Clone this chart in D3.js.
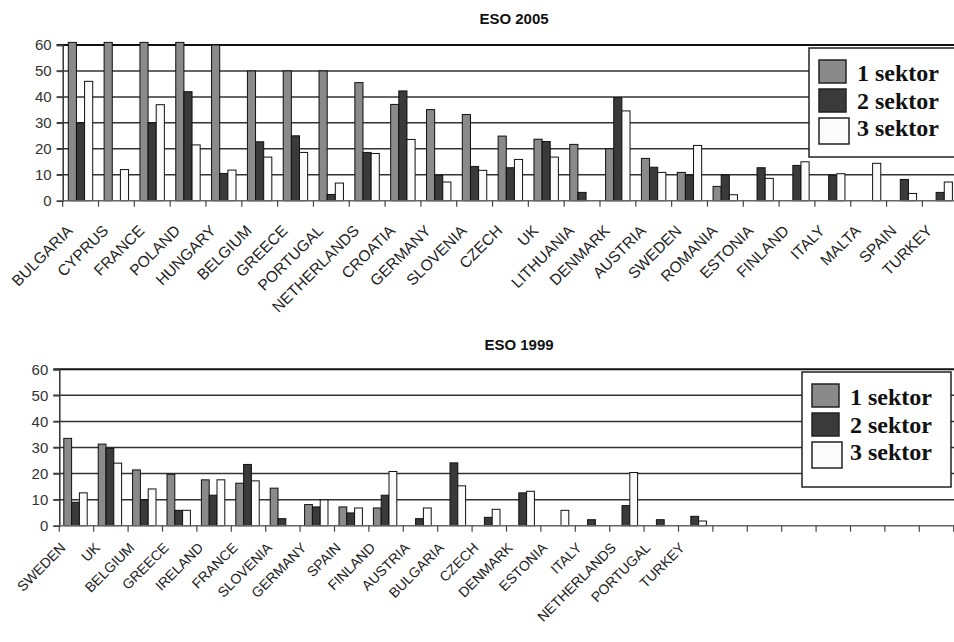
<!DOCTYPE html>
<html>
<head>
<meta charset="utf-8">
<script src="https://cdn.jsdelivr.net/npm/d3@7"></script>
<style>
body { margin: 0; background: #fff; }
svg { display: block; }
.tick text { font-family: "Liberation Sans", Arial, sans-serif; fill: #333; }
.title { font-family: "Liberation Sans", Arial, sans-serif; font-weight: bold; font-size: 15px; fill: #111; }
.leg { font-family: "Liberation Serif", "Times New Roman", serif; font-weight: bold; font-size: 24px; fill: #111; }
</style>
</head>
<body>
<script>
// ESO 2005
var cats2005 = ["BULGARIA", "CYPRUS", "FRANCE", "POLAND", "HUNGARY", "BELGIUM", "GREECE", "PORTUGAL",
  "NETHERLANDS", "CROATIA", "GERMANY", "SLOVENIA", "CZECH", "UK", "LITHUANIA", "DENMARK", "AUSTRIA",
  "SWEDEN", "ROMANIA", "ESTONIA", "FINLAND", "ITALY", "MALTA", "SPAIN", "TURKEY"];
var s1_2005 = [61, 61, 61, 61, 60, 50, 50, 50, 45.5, 37.1, 35.1, 33.2, 24.9, 23.7, 21.7, 20, 16.3, 10.9, 5.5, null, null, null, null, null, null];
var s2_2005 = [30, null, 30, 42, 10.5, 22.7, 25, 2.4, 18.6, 42.3, 9.8, 13.2, 12.7, 22.8, 3.2, 39.7, 12.9, 9.9, 9.9, 12.7, 13.6, 9.8, null, 8.2, 3.2];
var s3_2005 = [46, 12, 37, 21.5, 11.8, 16.8, 18.6, 6.8, 18.2, 23.6, 7.2, 11.7, 15.9, 16.8, null, 34.6, 10.9, 21.3, 2.3, 8.6, 15, 10.4, 14.4, 2.8, 7.2];

// ESO 1999 (the axis has 26 slots, the last ones are empty)
var cats1999 = ["SWEDEN", "UK", "BELGIUM", "GREECE", "IRELAND", "FRANCE", "SLOVENIA", "GERMANY", "SPAIN",
  "FINLAND", "AUSTRIA", "BULGARIA", "CZECH", "DENMARK", "ESTONIA", "ITALY", "NETHERLANDS", "PORTUGAL", "TURKEY",
  "", "", "", "", "", "", ""];
var s1_1999 = [33.5, 31.3, 21.4, 19.7, 17.6, 16.3, 14.4, 8.1, 7.2, 6.8, null, null, null, null, null, null, null, null, null];
var s2_1999 = [9, 29.7, 9.9, 5.9, 11.7, 23.5, 2.7, 7.2, 4.9, 11.7, 2.7, 24.1, 3.2, 12.6, null, 2.3, 7.7, 2.3, 3.6];
var s3_1999 = [12.6, 24, 14.1, 5.9, 17.6, 17.2, null, 9.9, 6.8, 20.8, 6.8, 15.3, 6.3, 13.2, 5.9, null, 20.4, null, 1.8];

var yTicks = [0, 10, 20, 30, 40, 50, 60];
var seriesNames = ["1 sektor", "2 sektor", "3 sektor"];
var colors = ["#8a8a8a", "#3a3a3a", "#fbfbfb"];

var svg = d3.select("body").append("svg")
  .attr("width", 954)
  .attr("height", 642);

function draw(o) {
  var g = svg.append("g");

  var x = d3.scaleBand()
    .domain(d3.range(o.cats.length))
    .range([o.left, o.right]);

  var inner = d3.scaleBand()
    .domain([0, 1, 2])
    .range([o.pad, x.bandwidth() - o.pad2]);

  var y = d3.scaleLinear()
    .domain([0, 60])
    .range([o.bottom, o.top]);

  g.append("text")
    .attr("class", "title")
    .attr("x", o.titleX)
    .attr("y", o.titleY)
    .attr("text-anchor", "middle")
    .text(o.title);

  // grid
  g.selectAll(".grid")
    .data(yTicks.slice(1))
    .enter().append("line")
    .attr("x1", o.left - 6)
    .attr("x2", 954)
    .attr("y1", function(d) { return y(d); })
    .attr("y2", function(d) { return y(d); })
    .style("stroke", function(d) { return d == 60 ? "#111" : "#333"; })
    .style("stroke-width", function(d) { return d == 60 ? 2 : 1.5; });

  var yAxis = d3.axisLeft(y).tickValues(yTicks).tickSize(6).tickPadding(5);
  var ya = g.append("g")
    .attr("transform", "translate(" + o.left + ",0)")
    .call(yAxis);
  ya.select(".domain").style("stroke", "#333").style("stroke-width", 1.5);
  ya.selectAll(".tick line").style("stroke", "#444").style("stroke-width", 1.4);
  ya.selectAll(".tick text").style("font-size", "15px");

  var series = [o.s1, o.s2, o.s3];
  series.forEach(function(vals, k) {
    g.selectAll(".bar" + k)
      .data(vals.map(function(v, i) { return {i: i, v: v}; }).filter(function(d) { return d.v != null; }))
      .enter().append("rect")
      .attr("x", function(d) { return x(d.i) + inner(k); })
      .attr("width", inner.bandwidth())
      .attr("y", function(d) { return y(d.v); })
      .attr("height", function(d) { return o.bottom - y(d.v); })
      .attr("fill", colors[k])
      .style("stroke", "#111")
      .style("stroke-width", 1);
  });

  // x axis
  g.append("line")
    .attr("x1", o.left).attr("x2", 954)
    .attr("y1", o.bottom).attr("y2", o.bottom)
    .style("stroke", "#666").style("stroke-width", 1.5);

  g.selectAll(".xt")
    .data(d3.range(o.cats.length + 1))
    .enter().append("line")
    .attr("x1", function(i) { return o.left + i * x.step(); })
    .attr("x2", function(i) { return o.left + i * x.step(); })
    .attr("y1", o.bottom)
    .attr("y2", o.bottom + 6)
    .style("stroke", "#444").style("stroke-width", 1.2);

  g.selectAll(".xl")
    .data(o.cats)
    .enter().append("text")
    .attr("transform", function(d, i) {
      return "translate(" + (x(i) + x.bandwidth() / 2 + o.lx) + "," + (o.bottom + o.ly) + ") rotate(-45)";
    })
    .attr("text-anchor", "end")
    .style("font-family", "'Liberation Sans', Arial, sans-serif")
    .style("font-size", o.lsize + "px")
    .style("fill", "#222")
    .text(function(d) { return d; });

  // legend
  var lg = g.append("g");
  lg.append("rect")
    .attr("x", o.leg[0]).attr("y", o.leg[1])
    .attr("width", o.leg[2]).attr("height", o.leg[3])
    .attr("fill", "#fff")
    .style("stroke", "#222").style("stroke-width", 1.5);
  seriesNames.forEach(function(name, k) {
    var big = k == 2 ? 3 : 0;
    lg.append("rect")
      .attr("x", o.leg[0] + 10)
      .attr("y", o.leg[1] + 12 + k * 29)
      .attr("width", 27 + big)
      .attr("height", 23 + big)
      .attr("fill", colors[k])
      .style("stroke", "#222").style("stroke-width", 1.5);
    lg.append("text")
      .attr("class", "leg")
      .attr("x", o.leg[0] + 48)
      .attr("y", o.leg[1] + 33 + k * 27.5)
      .text(name);
  });
}

draw({
  title: "ESO 2005", titleX: 514, titleY: 24,
  cats: cats2005, s1: s1_2005, s2: s2_2005, s3: s3_2005,
  left: 62.7, right: 62.7 + 25 * 35.82, top: 45, bottom: 200.7,
  pad: 5.6, pad2: 5.8, lx: -7, ly: 31, lsize: 15.5,
  leg: [809, 48, 150, 109]
});

draw({
  title: "ESO 1999", titleX: 519, titleY: 350,
  cats: cats1999, s1: s1_1999, s2: s2_1999, s3: s3_1999,
  left: 59.3, right: 59.3 + 26 * 34.4, top: 369.3, bottom: 525.7,
  pad: 4.5, pad2: 6.5, lx: -10, ly: 23, lsize: 14,
  leg: [802, 372, 149, 115]
});
</script>
</body>
</html>
